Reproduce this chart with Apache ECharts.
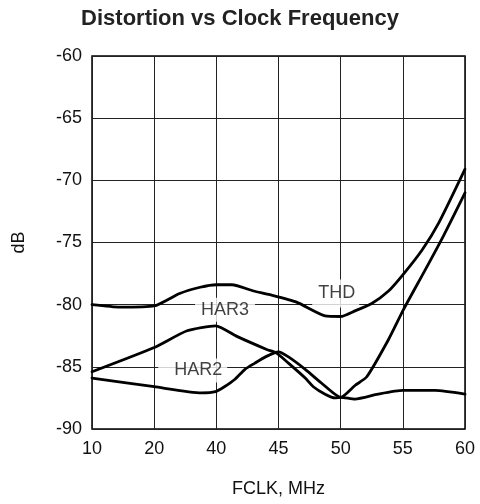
<!DOCTYPE html>
<html>
<head>
<meta charset="utf-8">
<script src="https://cdn.jsdelivr.net/npm/echarts@6/dist/echarts.min.js"></script>
<style>
  html, body { margin: 0; padding: 0; background: #fff; }
  #chart { width: 480px; height: 504px; }
</style>
</head>
<body>
<div id="chart"></div>
<script>
// ---- data (x in MHz, y in dB) ----
const tickValues = [10, 20, 40, 45, 50, 55, 60];
const tickLabels = ['10', '20', '40', '45', '50', '55', '60'];

const thdMHz = [10, 14.5, 20, 28.2, 34.8, 40, 41.25, 43, 44.3, 46.45, 48.75, 50, 51.15, 52.5, 53.85, 55, 56.55, 57.9, 60];
const thdDb  = [-80.0, -80.2, -80.1, -79.1, -78.6, -78.4, -78.4, -78.9, -79.2, -79.8, -80.9, -80.95, -80.5, -79.9, -78.9, -77.6, -75.6, -73.4, -69.1];

const har3MHz = [10, 20, 30.6, 39.8, 41.65, 44.05, 44.85, 45.8, 47.15, 47.8, 48.75, 49.55, 50, 51.15, 53, 55, 57.6, 60];
const har3Db  = [-85.4, -83.45, -82.1, -81.7, -82.55, -83.6, -83.9, -84.7, -85.9, -86.6, -87.2, -87.5, -87.45, -87.6, -87.2, -86.9, -86.9, -87.2];

const har2MHz = [10, 20, 35.2, 39.7, 40.65, 41.5, 42.3, 43.1, 43.95, 45, 45.8, 47.15, 48.45, 50, 51.15, 52.1, 53.85, 55.05, 56.8, 58.25, 60];
const har2Db  = [-85.9, -86.6, -87.1, -87.0, -86.6, -86.0, -85.2, -84.7, -84.2, -83.8, -84.2, -85.2, -86.3, -87.45, -86.5, -85.8, -82.8, -80.4, -77.2, -74.5, -71.0];

const labelNames = ['THD', 'HAR3', 'HAR2'];
const labelMHz   = [49.6, 40.7, 32.4];
const labelDb    = [-79.1, -80.4, -85.29];

// piecewise-linear mapping of MHz onto the evenly spaced tick positions
function toPos(f) {
  for (let i = 0; i < tickValues.length - 1; i++) {
    if (f <= tickValues[i + 1]) {
      return i + (f - tickValues[i]) / (tickValues[i + 1] - tickValues[i]);
    }
  }
  return tickValues.length - 1;
}
function pairs(xs, ys) { return xs.map((x, i) => [toPos(x), ys[i]]); }

const chart = echarts.init(document.getElementById('chart'), null, { renderer: 'canvas' });
const FONT = 'Liberation Sans, Arial, Helvetica, sans-serif';
const lineCommon = {
  type: 'line', showSymbol: false, symbol: 'none', smooth: 0.2,
  lineStyle: { color: '#000', width: 2.8, join: 'round', cap: 'round' }, z: 3, silent: true
};
const labelPadding = [[2, 4, 8, 6], [3, 6, 3, 6], [3, 5, 3, 16]];

chart.setOption({
  animation: false,
  backgroundColor: '#fff',
  title: {
    text: 'Distortion vs Clock Frequency',
    left: 'center', top: 3,
    textStyle: { fontFamily: FONT, fontWeight: 'bold', fontSize: 22, color: '#222' }
  },
  grid: { left: 92, right: 15, top: 56, bottom: 75, show: true, borderColor: '#000', borderWidth: 1.5, backgroundColor: 'transparent' },
  xAxis: {
    type: 'value', min: 0, max: tickValues.length - 1, interval: 1,
    name: 'FCLK, MHz', nameLocation: 'middle', nameGap: 51,
    nameTextStyle: { fontFamily: FONT, fontSize: 18, color: '#111' },
    axisLine: { show: false }, axisTick: { show: false },
    axisLabel: { fontFamily: FONT, fontSize: 18, color: '#111', margin: 11, formatter: v => tickLabels[Math.round(v)] },
    splitLine: { show: true, lineStyle: { color: '#222', width: 1 } }
  },
  yAxis: {
    type: 'value', min: -90, max: -60, interval: 5,
    name: 'dB', nameLocation: 'middle', nameGap: 64, nameRotate: 90,
    nameTextStyle: { fontFamily: FONT, fontSize: 18, color: '#111' },
    axisLine: { show: false }, axisTick: { show: false },
    axisLabel: { fontFamily: FONT, fontSize: 18, color: '#111', margin: 10 },
    splitLine: { show: true, lineStyle: { color: '#222', width: 1 } }
  },
  series: [
    Object.assign({ name: 'THD', data: pairs(thdMHz, thdDb) }, lineCommon),
    Object.assign({ name: 'HAR3', data: pairs(har3MHz, har3Db) }, lineCommon),
    Object.assign({ name: 'HAR2', data: pairs(har2MHz, har2Db) }, lineCommon),
    {
      type: 'scatter', name: 'labels', z: 5, silent: true,
      symbolSize: 1, itemStyle: { color: 'rgba(0,0,0,0)' },
      data: labelNames.map((n, i) => ({
        name: n, value: [toPos(labelMHz[i]), labelDb[i]],
        label: { padding: labelPadding[i] }
      })),
      label: {
        show: true, position: 'inside', formatter: '{b}',
        fontFamily: FONT, fontSize: 18, color: '#111',
        backgroundColor: '#fff'
      }
    }
  ]
});
</script>
</body>
</html>
